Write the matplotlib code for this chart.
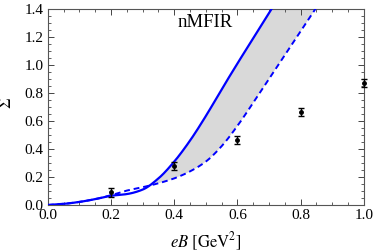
import numpy as np
import matplotlib
matplotlib.use("Agg")
import matplotlib.pyplot as plt
from matplotlib.ticker import MultipleLocator

# lattice points
eb_pts = [0.2, 0.4, 0.6, 0.8, 1.0]
sig_pts = [0.09, 0.28, 0.465, 0.665, 0.87]
sig_err = [0.03, 0.03, 0.03, 0.03, 0.03]

# nMFIR curves (solid = upper, dashed = lower)
eb_solid = [0.0, 0.05, 0.1, 0.15, 0.2, 0.25, 0.3, 0.35, 0.4, 0.45, 0.5, 0.55, 0.6, 0.65, 0.7, 0.75]
sig_solid = [0.0, 0.008, 0.022, 0.042, 0.066, 0.078, 0.11, 0.19, 0.31, 0.46, 0.635, 0.825, 1.01, 1.19, 1.37, 1.55]
eb_dash = [0.0, 0.05, 0.1, 0.15, 0.2, 0.25, 0.3, 0.35, 0.4, 0.45, 0.5, 0.55, 0.6, 0.65, 0.7, 0.75, 0.8, 0.85, 0.9]
sig_dash = [0.0, 0.008, 0.022, 0.042, 0.07, 0.103, 0.127, 0.155, 0.19, 0.24, 0.31, 0.42, 0.565, 0.73, 0.9, 1.07, 1.24, 1.41, 1.58]

plt.rcParams['font.family'] = 'Liberation Serif'
plt.rcParams['mathtext.fontset'] = 'stix'


def pchip(x, y, xq):
    # monotone cubic interpolation (Fritsch-Carlson)
    x = np.asarray(x, float)
    y = np.asarray(y, float)
    h = np.diff(x)
    d = np.diff(y) / h
    m = np.zeros_like(y)
    for k in range(1, len(x) - 1):
        if d[k - 1] * d[k] > 0:
            w1 = 2 * h[k] + h[k - 1]
            w2 = h[k] + 2 * h[k - 1]
            m[k] = (w1 + w2) / (w1 / d[k - 1] + w2 / d[k])
    m[0] = d[0]
    m[-1] = d[-1]
    i = np.clip(np.searchsorted(x, xq) - 1, 0, len(x) - 2)
    t = (xq - x[i]) / h[i]
    h00 = 2 * t**3 - 3 * t**2 + 1
    h10 = t**3 - 2 * t**2 + t
    h01 = -2 * t**3 + 3 * t**2
    h11 = t**3 - t**2
    return h00 * y[i] + h10 * h[i] * m[i] + h01 * y[i + 1] + h11 * h[i] * m[i + 1]


fig = plt.figure(figsize=(3.74, 2.52), dpi=100)
ax = fig.add_axes([0.128, 0.1865, 0.845, 0.779])

xs_s = np.linspace(0, eb_solid[-1], 500)
xs_d = np.linspace(0, eb_dash[-1], 500)
ys = pchip(eb_solid, sig_solid, xs_s)
yd = pchip(eb_dash, sig_dash, xs_d)

# shaded band between the curves
xf = np.linspace(0.3, 0.9, 500)
top = np.where(xf <= eb_solid[-1], pchip(eb_solid, sig_solid, np.minimum(xf, eb_solid[-1])), 5.0)
bot = pchip(eb_dash, sig_dash, xf)
ax.fill_between(xf, bot, top, where=top >= bot, color='#d9d9d9', lw=0, zorder=1)

ax.plot(xs_s, ys, color='#0000ff', lw=1.6, zorder=3)
ax.plot(xs_d, yd, color='#0000ff', lw=1.4, ls=(0, (3, 2)), zorder=3)

ax.errorbar(eb_pts, sig_pts, yerr=sig_err, fmt='o', color='black', ms=2.5,
            capsize=2, elinewidth=1, capthick=1, zorder=4, clip_on=False)

ax.text(0.41, 1.3, 'nMFIR', fontsize=13.5, va='center', ha='left')

ax.set_xlim(0, 1.0)
ax.set_ylim(0, 1.4)
ax.xaxis.set_major_locator(MultipleLocator(0.2))
ax.xaxis.set_minor_locator(MultipleLocator(0.05))
ax.yaxis.set_major_locator(MultipleLocator(0.2))
ax.yaxis.set_minor_locator(MultipleLocator(0.05))
ax.xaxis.set_major_formatter(plt.FuncFormatter(lambda v, p: f'{v:.1f}'))
ax.yaxis.set_major_formatter(plt.FuncFormatter(lambda v, p: f'{v:.1f}'))
ax.tick_params(which='both', direction='in', top=True, right=True, labelsize=11,
               color='#444444', pad=3)
ax.tick_params(which='major', length=4, width=0.7)
ax.tick_params(which='minor', length=2, width=0.6)
for s in ax.spines.values():
    s.set_color('#555555')
    s.set_linewidth(0.8)

ax.set_xlabel(r'$eB\ [\mathrm{GeV}^2]$', fontsize=12)
ax.xaxis.set_label_coords(0.5, -0.13)
ax.set_ylabel(r'$\Sigma$', fontsize=12)
ax.yaxis.set_label_coords(-0.105, 0.52)

fig.savefig('out.png', dpi=100)
